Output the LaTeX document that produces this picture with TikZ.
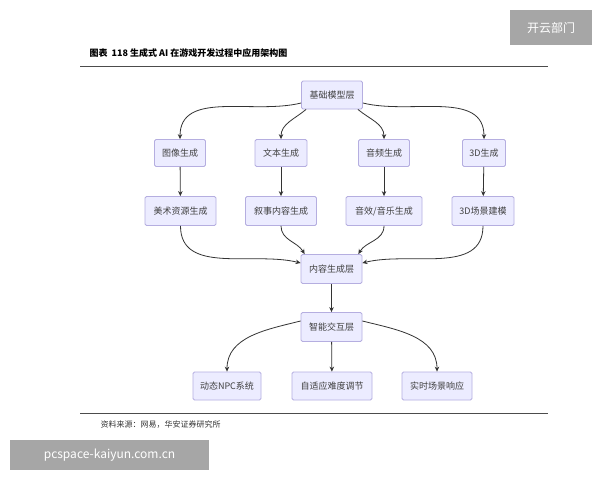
\documentclass[tikz,border=0pt]{standalone}
\usepackage{fontspec}
\setmainfont{Noto Sans CJK SC}
\usetikzlibrary{arrows.meta}
\definecolor{nfill}{HTML}{ECECFF}
\definecolor{nline}{HTML}{B5AEE0}
\begin{document}
\begin{tikzpicture}[x=1pt,y=-1pt,
  box/.style={draw=nline,fill=nfill,rounded corners=1.5pt,line width=0.8pt,minimum height=28pt,inner xsep=3pt,font=\fontsize{9}{10}\selectfont,text=black!75},
  arr/.style={draw=black!80,line width=0.8pt,-{Stealth[length=5pt,width=4.5pt]}}]
\useasboundingbox (0,0) rectangle (600,480);
\fill[white] (0,0) rectangle (600,480);
% watermarks
\node[fill=black!35,text=white,minimum width=82pt,minimum height=35pt,inner sep=0,font=\fontsize{12}{14}\selectfont] (wm1) at (551,27.5) {开云部门};
\node[fill=black!35,text=white,minimum width=199pt,minimum height=30pt,inner sep=0,font=\fontsize{12}{14}\selectfont] (wm2) at (109.5,455) {pcspace-kaiyun.com.cn};
% title
\node[anchor=west,font=\bfseries\fontsize{9}{11}\selectfont] (title) at (86,53) {图表\ \ 118 生成式 AI 在游戏开发过程中应用架构图};
\draw[black!70,line width=0.8pt] (80,66) -- (548,66);
\draw[black!70,line width=0.8pt] (80,413) -- (548,413);
\node[anchor=west,font=\fontsize{8}{10}\selectfont,text=black!80] (src) at (97,425) {资料来源：网易，华安证券研究所};
% nodes
\node[box,minimum width=61pt] (base) at (332,95) {基础模型层};
\node[box,minimum width=51pt,minimum height=27pt] (img) at (180,153) {图像生成};
\node[box,minimum width=52pt,minimum height=27pt] (txt) at (281,153) {文本生成};
\node[box,minimum width=51pt,minimum height=27pt] (aud) at (384,153) {音频生成};
\node[box,minimum width=43pt,minimum height=27pt] (d3) at (484,153) {3D生成};
\node[box,minimum width=71pt,minimum height=29pt] (art) at (180.5,211) {美术资源生成};
\node[box,minimum width=71pt,minimum height=29pt] (nar) at (281,211) {叙事内容生成};
\node[box,minimum width=76pt,minimum height=29pt] (sfx) at (384,211) {音效/音乐生成};
\node[box,minimum width=62pt,minimum height=29pt] (scn) at (483,211) {3D场景建模};
\node[box,minimum width=61pt,minimum height=29pt] (content) at (331.5,269) {内容生成层};
\node[box,minimum width=61pt,minimum height=29pt] (inter) at (331.5,327) {智能交互层};
\node[box,minimum width=68pt] (npc) at (227,386) {动态NPC系统};
\node[box,minimum width=80pt] (diff) at (332,386) {自适应难度调节};
\node[box,minimum width=70pt] (rt) at (437,386) {实时场景响应};
% edges
\draw[arr] ([yshift=-8pt]base.west) to[out=194,in=90] (img.north);
\draw[arr] ([xshift=5pt]base.south west) to[out=220,in=90] (txt.north);
\draw[arr] ([xshift=-5pt]base.south east) to[out=-40,in=90] (aud.north);
\draw[arr] ([yshift=-8pt]base.east) to[out=-14,in=90] (d3.north);
\draw[arr] (img) -- (art);
\draw[arr] (txt) -- (nar);
\draw[arr] (aud) -- (sfx);
\draw[arr] (d3) -- (scn);
\draw[arr] (art.south) to[out=-90,in=166] ([yshift=6pt]content.west);
\draw[arr] (nar.south) to[out=-90,in=120] ([xshift=4pt]content.north west);
\draw[arr] (sfx.south) to[out=-90,in=60] ([xshift=-4pt]content.north east);
\draw[arr] (scn.south) to[out=-90,in=14] ([yshift=6pt]content.east);
\draw[arr] (content) -- (inter);
\draw[arr] ([yshift=6pt]inter.west) to[out=194,in=90] (npc.north);
\draw[arr] (inter) -- (diff);
\draw[arr] ([yshift=6pt]inter.east) to[out=-14,in=90] (rt.north);
\end{tikzpicture}
\end{document}
